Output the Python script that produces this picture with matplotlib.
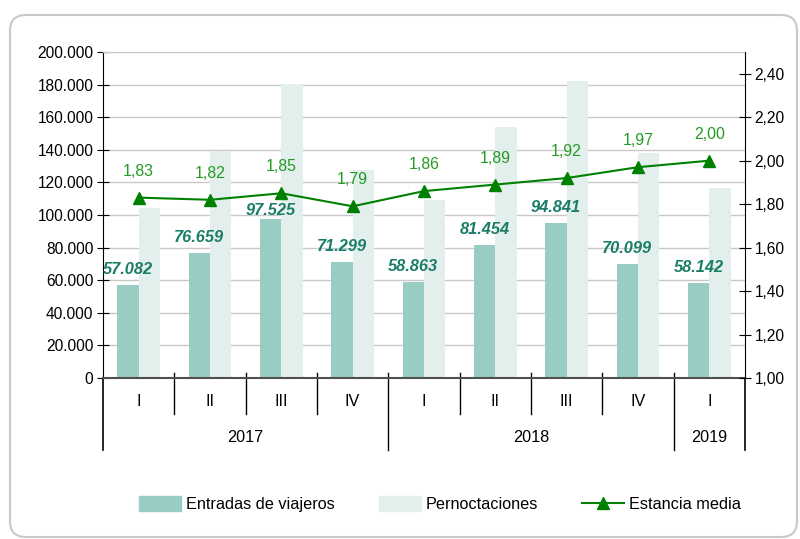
import matplotlib
matplotlib.use("Agg")
import matplotlib.pyplot as plt
from matplotlib.patches import Patch, FancyBboxPatch
from matplotlib.lines import Line2D
from matplotlib.transforms import IdentityTransform
from matplotlib.ticker import FuncFormatter, MultipleLocator

plt.rcParams['font.family'] = ['Liberation Sans', 'DejaVu Sans']

quarters = ["I", "II", "III", "IV", "I", "II", "III", "IV", "I"]
years = ["2017", "2018", "2019"]
year_spans = [(0, 3), (4, 7), (8, 8)]
entradas = [57082, 76659, 97525, 71299, 58863, 81454, 94841, 70099, 58142]
pernoctaciones = [104460, 139520, 180420, 127625, 109480, 153950, 182095, 138095, 116284]
estancia = [1.83, 1.82, 1.85, 1.79, 1.86, 1.89, 1.92, 1.97, 2.00]
entradas_labels = ["57.082", "76.659", "97.525", "71.299", "58.863", "81.454", "94.841", "70.099", "58.142"]
estancia_labels = ["1,83", "1,82", "1,85", "1,79", "1,86", "1,89", "1,92", "1,97", "2,00"]

C_ENT = "#99CCC2"
C_PER = "#E3EFEC"
C_LINE = "#008000"
C_LINELBL = "#239B23"
C_BARLBL = "#1A7D68"

W, H = 800, 539
fig = plt.figure(figsize=(W / 100, H / 100), dpi=100)
L, R, T, B = 103, 745, 52, 378
ax = fig.add_axes([L / W, 1 - B / H, (R - L) / W, (B - T) / H])

n = len(quarters)
xs = list(range(n))
bw = 0.30
ax.bar([x - bw / 2 for x in xs], entradas, width=bw, color=C_ENT, zorder=2)
ax.bar([x + bw / 2 for x in xs], pernoctaciones, width=bw, color=C_PER, zorder=2)
ax.set_xlim(-0.5, n - 0.5)
ax.set_ylim(0, 200000)
ax.yaxis.set_major_locator(MultipleLocator(20000))
ax.yaxis.set_major_formatter(FuncFormatter(lambda v, p: f"{int(v):,}".replace(",", ".")))
ax.grid(axis='y', color="#C8C8C8", lw=1, zorder=0)
ax.set_axisbelow(True)
ax.set_xticks([])
ax.spines['top'].set_color("#C8C8C8")
ax.spines['bottom'].set_color("#505050")
ax.spines['bottom'].set_linewidth(1.5)
ax.spines['left'].set_color("black")
ax.spines['right'].set_visible(False)
ax.tick_params(axis='y', direction='inout', length=8, labelsize=11.2, colors='black', pad=3)

px = 1 / (B - T)  # axes fraction per pixel
offs = [8, 8, 1, 8, 8, 8, 8, 8, 8]
for x, v, lbl, o in zip(xs, entradas, entradas_labels, offs):
    ax.annotate(lbl, (x - bw / 2, v), xytext=(0, o * 0.72), textcoords='offset points',
                ha='center', va='bottom', fontsize=11.8, fontweight='bold', fontstyle='italic',
                color=C_BARLBL, zorder=5)

ax2 = ax.twinx()
ax2.set_ylim(1.0, 2.5)
ax2.set_yticks([1.0, 1.2, 1.4, 1.6, 1.8, 2.0, 2.2, 2.4])
ax2.yaxis.set_major_formatter(FuncFormatter(lambda v, p: f"{v:.2f}".replace(".", ",")))
ax2.tick_params(axis='y', direction='inout', length=8, labelsize=11.2, colors='black', pad=3)
for s in ['top', 'left', 'bottom']:
    ax2.spines[s].set_visible(False)
ax2.spines['right'].set_color('black')
ax2.plot(xs, estancia, color=C_LINE, lw=1.5, marker='^', markersize=8, zorder=4)
for x, v, lbl in zip(xs, estancia, estancia_labels):
    ax2.annotate(lbl, (x, v), xytext=(0, 19), textcoords='offset points',
                 ha='center', va='center', fontsize=11.4, color=C_LINELBL)

# category axis: separators and labels
tr = ax.get_xaxis_transform()
y_top = 5 * px
y_q = -(414 - B) * px
y_y = -(450 - B) * px
year_bounds = [-0.5, 3.5, 7.5, 8.5]
for b in [i + 0.5 for i in range(n - 1)]:
    bottom = y_y if b in year_bounds else y_q
    ax.plot([b, b], [y_top, bottom], transform=tr, color='black', lw=1, clip_on=False)
for b in [-0.5, 8.5]:
    ax.plot([b, b], [0, y_y], transform=tr, color='black', lw=1.2, clip_on=False)
for x, q in zip(xs, quarters):
    ax.text(x, -(402 - B) * px, q, transform=tr, ha='center', va='center', fontsize=11.7)
for (a, b), yr in zip(year_spans, years):
    ax.text((a + b) / 2, -(437 - B) * px, yr, transform=tr, ha='center', va='center', fontsize=11.7)

handles = [Patch(color=C_ENT), Patch(color=C_PER),
           Line2D([], [], color=C_LINE, lw=1.5, marker='^', markersize=8)]
fig.legend(handles, ["Entradas de viajeros", "Pernoctaciones", "Estancia media"],
           loc='center', bbox_to_anchor=(440 / W, 1 - 504 / H), ncol=3, frameon=False,
           fontsize=11.7, handlelength=2.6, handleheight=1.0, handletextpad=0.3, columnspacing=2.7)

frame = FancyBboxPatch((10, H - 537), 787, 522, boxstyle="round,pad=0,rounding_size=16",
                       transform=IdentityTransform(), facecolor='none', edgecolor='#C8C8C8', lw=1.5)
fig.patches.append(frame)

fig.savefig("out.png", dpi=100)
